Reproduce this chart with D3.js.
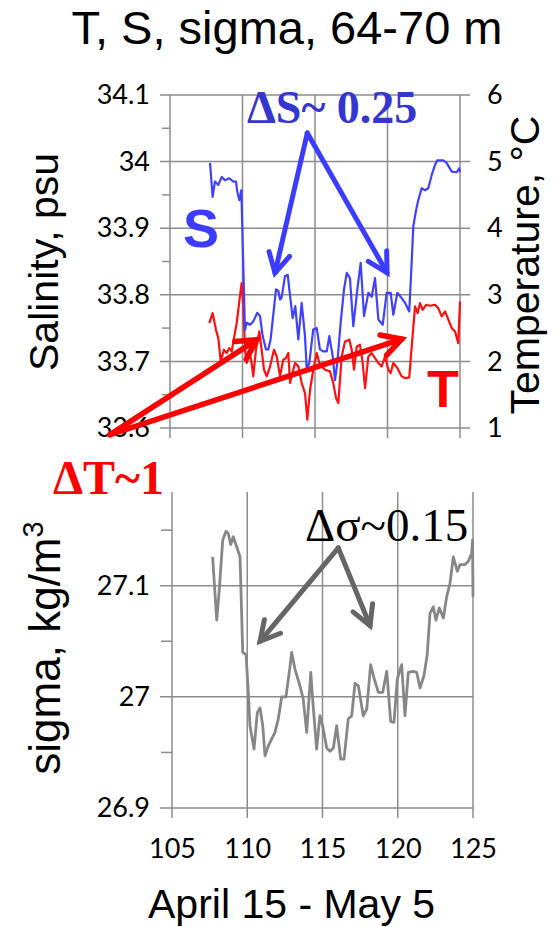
<!DOCTYPE html>
<html>
<head>
<meta charset="utf-8">
<script src="https://cdn.jsdelivr.net/npm/d3@7"></script>
<style>
  html, body { margin: 0; padding: 0; background: #fff; }
  svg { display: block; }
</style>
</head>
<body>
<svg id="chart" width="558" height="927"></svg>
<script>
// Salinity (psu) record, day of year
const salDays = [107.76,107.94,108.10,108.33,108.57,108.79,109.09,109.37,109.55,109.64,109.78,109.92,110.17,110.29,110.52,110.74,111.02,111.21,111.39,111.62,111.78,111.94,112.31,112.47,112.59,112.70,112.93,113.12,113.23,113.46,113.64,113.85,114.08,114.31,114.43,114.61,114.88,115.12,115.34,115.57,115.81,115.99,116.22,116.38,116.54,116.77,117.00,117.19,117.41,117.64,117.92,118.15,118.38,118.68,118.91,119.14,119.37,119.67,119.94,120.22,120.40,120.68,120.98,121.21,121.50,121.67,121.78,121.97,122.12,122.36,122.59,122.81,123.05,123.28,123.43,123.85,124.08,124.43,124.77,124.95,125.00];
const salinity = [33.998,33.947,33.970,33.965,33.977,33.972,33.975,33.970,33.970,33.955,33.942,33.957,33.747,33.758,33.755,33.760,33.773,33.768,33.738,33.718,33.718,33.733,33.808,33.806,33.793,33.796,33.828,33.830,33.808,33.765,33.783,33.733,33.788,33.738,33.688,33.698,33.748,33.750,33.718,33.715,33.715,33.738,33.708,33.672,33.698,33.758,33.808,33.833,33.825,33.753,33.808,33.848,33.768,33.803,33.797,33.825,33.763,33.755,33.803,33.803,33.770,33.803,33.795,33.788,33.775,33.850,33.903,33.927,33.942,33.960,33.957,33.960,33.980,33.995,34.002,34.002,33.998,33.985,33.984,33.990,33.984];

// Temperature (°C) record
const tempDays = [107.71,107.94,108.17,108.33,108.50,108.72,108.91,109.09,109.26,109.37,109.60,109.78,109.94,110.06,110.17,110.29,110.47,110.63,110.74,110.93,111.16,111.32,111.48,111.67,111.90,112.17,112.36,112.59,112.81,113.00,113.16,113.28,113.62,113.85,114.08,114.31,114.47,114.66,114.88,115.12,115.30,115.46,115.69,116.03,116.26,116.45,116.61,116.84,117.07,117.37,117.53,117.69,117.88,118.10,118.29,118.45,118.68,118.91,119.14,119.37,119.60,119.83,120.06,120.22,120.40,120.68,120.98,121.21,121.50,121.67,121.90,122.08,122.24,122.43,122.66,122.93,123.28,123.50,123.74,123.97,124.20,124.43,124.66,124.88,125.00];
const temperature = [2.575,2.725,2.475,2.35,2.0,2.175,2.125,2.2,2.15,2.3,2.575,2.9,3.175,2.825,2.175,1.975,2.175,1.975,1.775,2.175,2.45,2.175,1.875,1.775,1.925,2.175,2.075,1.775,2.025,2.05,2.125,1.675,1.975,1.925,1.675,1.525,1.125,1.575,1.875,2.125,1.975,1.925,1.875,1.85,1.675,1.45,1.375,2.075,2.3,2.325,2.175,1.875,2.225,2.25,1.975,1.6,2.075,2.125,2.05,1.975,1.925,2.075,1.875,1.825,1.975,1.9,1.775,1.75,1.76,2.225,2.825,2.725,2.875,2.775,2.85,2.835,2.85,2.8,2.675,2.75,2.625,2.5,2.45,2.275,2.9];

// Potential density anomaly sigma (kg/m3) record
const sigDays = [107.70,107.97,108.14,108.37,108.59,108.74,108.90,109.07,109.30,109.52,109.70,109.92,110.07,110.18,110.45,110.67,110.85,111.03,111.18,111.40,111.62,111.84,112.06,112.29,112.57,112.84,112.95,113.17,113.50,113.72,113.95,114.22,114.39,114.61,114.83,115.01,115.28,115.50,115.72,115.94,116.21,116.43,116.71,116.94,117.16,117.38,117.71,117.94,118.20,118.42,118.71,119.00,119.27,119.53,119.75,119.97,120.26,120.48,120.70,121.03,121.26,121.48,121.74,121.96,122.14,122.36,122.54,122.76,123.03,123.25,123.47,123.69,123.96,124.14,124.47,124.69,124.91,124.97,125.00];
const sigma = [27.126,27.069,27.096,27.141,27.149,27.147,27.137,27.144,27.135,27.126,27.040,27.038,27.004,26.974,26.953,26.986,26.990,26.974,26.947,26.956,26.962,26.968,26.980,27.000,27.000,27.027,27.040,27.025,27.010,26.998,26.968,27.022,26.990,26.953,26.983,26.974,26.954,26.951,26.954,26.974,26.944,26.944,26.980,26.983,27.012,27.010,26.983,26.989,27.029,27.017,27.004,27.004,27.023,26.978,26.977,27.016,27.029,26.983,27.022,27.023,27.022,27.008,27.019,27.038,27.075,27.081,27.069,27.080,27.071,27.090,27.102,27.126,27.113,27.119,27.119,27.122,27.129,27.141,27.090];

// Tick values
const dayTicks = [105, 110, 115, 120, 125];
const salTicks = [33.6, 33.7, 33.8, 33.9, 34.0, 34.1];
const salMinor = [33.65, 33.75, 33.85, 33.95, 34.05];
const tempTicks = [1, 2, 3, 4, 5, 6];
const sigTicks = [26.9, 27.0, 27.1];
const sigMinor = [26.95, 27.05, 27.15];

const svg = d3.select("#chart");
const GRID = "#8c8c8c";
const TICK_FONT = "Lato, 'Open Sans', sans-serif";
const TITLE_FONT = "'Liberation Sans', Arial, sans-serif";
const SERIF = "'Liberation Serif', 'Times New Roman', serif";
const fmt = d3.format("~g");

// ---------- upper panel: salinity + temperature ----------
const xTop = d3.scaleLinear().domain([105, 125]).range([170, 460]);
const yS = d3.scaleLinear().domain([33.6, 34.1]).range([428, 95]);
const yT = d3.scaleLinear().domain([1, 6]).range([428, 95]);

const upper = svg.append("g");

// horizontal grid (with tick stubs on both sides)
upper.append("g").selectAll("line").data(salTicks).join("line")
  .attr("x1", 160).attr("x2", 470)
  .attr("y1", d => yS(d)).attr("y2", d => yS(d))
  .attr("stroke", GRID).attr("stroke-width", 1.5);
upper.append("g").selectAll("line").data(salMinor).join("line")
  .attr("x1", 162).attr("x2", 170)
  .attr("y1", d => yS(d)).attr("y2", d => yS(d))
  .attr("stroke", GRID).attr("stroke-width", 1.5);
// vertical grid
upper.append("g").selectAll("line").data(dayTicks).join("line")
  .attr("x1", d => xTop(d)).attr("x2", d => xTop(d))
  .attr("y1", 95).attr("y2", 438)
  .attr("stroke", GRID).attr("stroke-width", 1.5);

// left axis labels (salinity)
const axS = upper.append("g").attr("transform", "translate(170,0)")
  .call(d3.axisLeft(yS).tickValues(salTicks).tickFormat(fmt).tickSize(0).tickPadding(20));
// right axis labels (temperature)
const axT = upper.append("g").attr("transform", "translate(460,0)")
  .call(d3.axisRight(yT).tickValues(tempTicks).tickFormat(fmt).tickSize(0).tickPadding(27));
[axS, axT].forEach(a => {
  a.select(".domain").remove();
  a.selectAll("text").attr("font-family", TICK_FONT).attr("font-size", 27).attr("fill", "#000");
});

// series lines
const lineS = d3.line().x((d, i) => xTop(salDays[i])).y(d => yS(d));
const lineT = d3.line().x((d, i) => xTop(tempDays[i])).y(d => yT(d));
upper.append("path").datum(temperature).attr("d", lineT)
  .attr("fill", "none").attr("stroke", "#ff1010").attr("stroke-width", 2.2).attr("stroke-linejoin", "round");
upper.append("path").datum(salinity).attr("d", lineS)
  .attr("fill", "none").attr("stroke", "#4040ff").attr("stroke-width", 2.2).attr("stroke-linejoin", "round");

// axis titles
svg.append("text").attr("transform", "translate(58,262) rotate(-90)")
  .attr("text-anchor", "middle").attr("font-family", TITLE_FONT).attr("font-size", 41)
  .text("Salinity, psu");
svg.append("text").attr("transform", "translate(539,265) rotate(-90)")
  .attr("text-anchor", "middle").attr("font-family", TITLE_FONT).attr("font-size", 41)
  .text("Temperature, °C");

// chart title
svg.append("text").attr("x", 287).attr("y", 44).attr("text-anchor", "middle")
  .attr("font-family", TITLE_FONT).attr("font-size", 47).text("T, S, sigma, 64-70 m");

// ---------- lower panel: sigma ----------
const xBot = d3.scaleLinear().domain([105, 125]).range([172, 473]);
const ySig = d3.scaleLinear().domain([26.9, 27.1]).range([808, 585.7]);
const botTop = 492;

const lower = svg.append("g");
lower.append("g").selectAll("line").data(sigTicks).join("line")
  .attr("x1", 160).attr("x2", 473)
  .attr("y1", d => ySig(d)).attr("y2", d => ySig(d))
  .attr("stroke", GRID).attr("stroke-width", 1.5);
lower.append("g").selectAll("line").data(sigMinor).join("line")
  .attr("x1", 161).attr("x2", 172)
  .attr("y1", d => ySig(d)).attr("y2", d => ySig(d))
  .attr("stroke", GRID).attr("stroke-width", 1.5);
lower.append("g").selectAll("line").data(dayTicks).join("line")
  .attr("x1", d => xBot(d)).attr("x2", d => xBot(d))
  .attr("y1", botTop).attr("y2", 818)
  .attr("stroke", GRID).attr("stroke-width", 1.5);

const axSig = lower.append("g").attr("transform", "translate(172,0)")
  .call(d3.axisLeft(ySig).tickValues(sigTicks).tickFormat(fmt).tickSize(0).tickPadding(22));
const axX = lower.append("g").attr("transform", "translate(0,808)")
  .call(d3.axisBottom(xBot).tickValues(dayTicks).tickFormat(fmt).tickSize(0).tickPadding(31));
[axSig, axX].forEach(a => {
  a.select(".domain").remove();
  a.selectAll("text").attr("font-family", TICK_FONT).attr("font-size", 27).attr("fill", "#000");
});

const lineSig = d3.line().x((d, i) => xBot(sigDays[i])).y(d => ySig(d));
lower.append("path").datum(sigma).attr("d", lineSig)
  .attr("fill", "none").attr("stroke", "#878787").attr("stroke-width", 2.8).attr("stroke-linejoin", "round");

const sigLabel = svg.append("text").attr("transform", "translate(60,648) rotate(-90)")
  .attr("text-anchor", "middle").attr("font-family", TITLE_FONT).attr("font-size", 44);
sigLabel.append("tspan").text("sigma, kg/m");
sigLabel.append("tspan").attr("font-size", 29).attr("dy", -17).text("3");

svg.append("text").attr("x", 148).attr("y", 918)
  .attr("font-family", TITLE_FONT).attr("font-size", 41).text("April 15 - May 5");

// ---------- annotations ----------
function arrow(g, from, tips, color, width) {
  const head = 22, ang = 0.5;
  tips.forEach(t => {
    g.append("line").attr("x1", from[0]).attr("y1", from[1]).attr("x2", t[0]).attr("y2", t[1])
      .attr("stroke", color).attr("stroke-width", width).attr("stroke-linecap", "round");
    const a = Math.atan2(from[1] - t[1], from[0] - t[0]);
    const p1 = [t[0] + head * Math.cos(a + ang), t[1] + head * Math.sin(a + ang)];
    const p2 = [t[0] + head * Math.cos(a - ang), t[1] + head * Math.sin(a - ang)];
    g.append("path").attr("d", `M${p1}L${t}L${p2}`)
      .attr("fill", "none").attr("stroke", color).attr("stroke-width", width)
      .attr("stroke-linecap", "round").attr("stroke-linejoin", "miter");
  });
}
const ann = svg.append("g");
// salinity change
arrow(ann, [xTop(114.47), yS(34.043)], [[xTop(112.24), yS(33.833)], [xTop(119.97), yS(33.833)]], "#3c3cff", 5);
// temperature change
arrow(ann, [xTop(100.86), yT(0.9)], [[xTop(110.98), yT(2.325)], [xTop(120.98), yT(2.335)]], "#ff0000", 5.5);
// density change
arrow(ann, [xBot(116.05), ySig(27.134)], [[xBot(110.85), ySig(27.05)], [xBot(118.16), ySig(27.064)]], "#666666", 5);

ann.append("text").attr("x", 247).attr("y", 123).attr("font-family", SERIF)
  .attr("font-weight", "bold").attr("font-size", 46).attr("fill", "#3535d0").text("ΔS~ 0.25");
ann.append("text").attr("x", 183).attr("y", 247).attr("font-family", TITLE_FONT)
  .attr("font-weight", "bold").attr("font-size", 54).attr("fill", "#3c3cff").text("S");
ann.append("text").attr("x", 427).attr("y", 407).attr("font-family", TITLE_FONT)
  .attr("font-weight", "bold").attr("font-size", 52).attr("fill", "#ff0000").text("T");
ann.append("text").attr("x", 53).attr("y", 494).attr("font-family", SERIF)
  .attr("font-weight", "bold").attr("font-size", 48).attr("fill", "#ff0000").text("ΔT~1");
ann.append("text").attr("x", 305).attr("y", 541).attr("font-family", SERIF)
  .attr("font-size", 47).attr("fill", "#000").text("Δσ~0.15");
</script>
</body>
</html>
